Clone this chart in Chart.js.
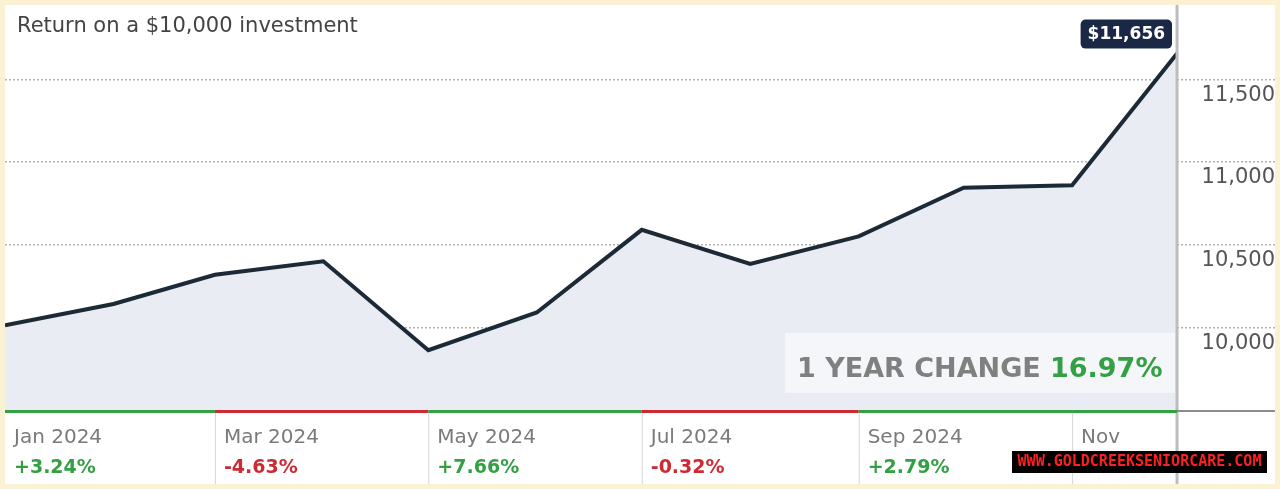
<!DOCTYPE html>
<html>
<head>
<meta charset="utf-8">
<script src="https://cdn.jsdelivr.net/npm/chart.js@4.4.1/dist/chart.umd.min.js"></script>
<style>
    html, body { margin: 0; padding: 0; background: #fbf2d3; }
    #wrap { position: absolute; left: 5px; top: 5px; width: 1270px; height: 479px; background: #fff; }
</style>
</head>
<body>
<div id="wrap"><canvas id="myChart" width="1270" height="479"></canvas></div>
<script>
const months = ['Jan 2024', 'Feb 2024', 'Mar 2024', 'Apr 2024', 'May 2024', 'Jun 2024',
                'Jul 2024', 'Aug 2024', 'Sep 2024', 'Oct 2024', 'Nov 2024', 'Dec 2024'];
const values = [10012, 10141, 10318, 10400, 9862, 10090, 10590, 10384, 10550, 10845, 10860, 11656];
const yTicks = [10000, 10500, 11000, 11500];

const sectionLabels = ['Jan 2024', 'Mar 2024', 'May 2024', 'Jul 2024', 'Sep 2024', 'Nov'];
const sectionStart = [0, 2, 4, 6, 8, 10];   // index in months
const sectionChange = [3.24, -4.63, 7.66, -0.32, 2.79, 7.33];

const titleText = 'Return on a $10,000 investment';
const lastValueText = '$11,656';
const yearChange = 16.97;
const watermark = 'WWW.GOLDCREEKSENIORCARE.COM';

// day of year for the first of each month
const days = months.map((m, i) => (Date.UTC(2024, i, 1) - Date.UTC(2024, 0, 1)) / 864e5);

const GREEN = '#33a043';
const RED = '#cc2b35';

const extras = {
    id: 'extras',
    afterDatasetsDraw(chart) {
        const ctx = chart.ctx;
        const x = chart.scales.x;
        const y = chart.scales.y;
        const endX = x.getPixelForValue(days[days.length - 1]);
        const endY = y.getPixelForValue(values[values.length - 1]);

        ctx.save();
        // title
        ctx.font = '21px "DejaVu Sans"';
        ctx.fillStyle = '#444';
        ctx.textAlign = 'left';
        ctx.textBaseline = 'alphabetic';
        ctx.fillText(titleText, 12, 27);

        // 1 year change box
        ctx.fillStyle = 'rgba(255,255,255,0.55)';
        ctx.fillRect(780, 328, endX - 2 - 780, 60);
        ctx.font = 'bold 27px "DejaVu Sans"';
        ctx.fillStyle = '#808080';
        ctx.fillText('1 YEAR CHANGE', 792, 372);
        ctx.fillStyle = GREEN;
        ctx.fillText(yearChange.toFixed(2) + '%', 1045, 372);

        // value badge
        ctx.font = 'bold 17px "DejaVu Sans"';
        const w = ctx.measureText(lastValueText).width + 14;
        const bx = endX - 5 - w, by = endY - 34;
        ctx.fillStyle = '#1b2845';
        ctx.beginPath();
        ctx.roundRect(bx, by, w, 29, 5);
        ctx.fill();
        ctx.fillStyle = '#fff';
        ctx.textAlign = 'center';
        ctx.textBaseline = 'middle';
        ctx.fillText(lastValueText, bx + w / 2, by + 15);
        ctx.restore();
    },
    afterDraw(chart) {
        const ctx = chart.ctx;
        const x = chart.scales.x;
        const area = chart.chartArea;
        const endX = x.getPixelForValue(days[days.length - 1]);
        const top = area.bottom;
        const H = chart.height;

        ctx.save();
        // vertical line at the last point
        ctx.strokeStyle = '#bdbdbd';
        ctx.lineWidth = 3;
        ctx.beginPath();
        ctx.moveTo(endX, 0);
        ctx.lineTo(endX, H);
        ctx.stroke();

        // bottom strip
        ctx.fillStyle = '#8c8c8c';
        ctx.fillRect(endX, top, chart.width - endX, 2);
        sectionLabels.forEach((lab, i) => {
            const x0 = x.getPixelForValue(days[sectionStart[i]]);
            const x1 = i < sectionLabels.length - 1 ? x.getPixelForValue(days[sectionStart[i + 1]]) : endX;
            const ch = sectionChange[i];
            ctx.fillStyle = ch >= 0 ? GREEN : RED;
            ctx.fillRect(x0, top, x1 - x0, 3);
            if (i > 0) {
                ctx.fillStyle = '#d6d6d6';
                ctx.fillRect(x0, top + 3, 1, H - top - 3);
            }
            ctx.textAlign = 'left';
            ctx.textBaseline = 'alphabetic';
            ctx.font = '20px "DejaVu Sans"';
            ctx.fillStyle = '#7a7a7a';
            ctx.fillText(lab, x0 + 9, 438);
            ctx.font = 'bold 19px "DejaVu Sans"';
            ctx.fillStyle = ch >= 0 ? GREEN : RED;
            ctx.fillText((ch >= 0 ? '+' : '') + ch.toFixed(2) + '%', x0 + 9, 468);
        });

        // watermark
        ctx.fillStyle = '#000';
        ctx.fillRect(1007, 446, 255, 22);
        ctx.font = 'bold 15px "DejaVu Sans Mono"';
        ctx.fillStyle = '#ff1f1f';
        ctx.textAlign = 'center';
        ctx.textBaseline = 'middle';
        ctx.fillText(watermark, 1007 + 255 / 2, 457);
        ctx.restore();
    }
};

const ctx = document.getElementById('myChart').getContext('2d');
new Chart(ctx, {
    type: 'line',
    data: {
        datasets: [{
            data: values.map((v, i) => ({ x: days[i], y: v })),
            borderColor: '#1b2a36',
            borderWidth: 4,
            backgroundColor: '#e9ecf2',
            fill: 'start',
            pointRadius: 0,
            tension: 0
        }]
    },
    options: {
        responsive: false,
        animation: false,
        devicePixelRatio: 1,
        events: [],
        layout: { padding: { top: 0, left: 0, right: 0, bottom: 74 } },
        plugins: { legend: { display: false }, tooltip: { enabled: false } },
        scales: {
            x: { type: 'linear', min: 0, max: 363, display: false },
            y: {
                position: 'right',
                min: 9500,
                max: 11950,
                bounds: 'data',
                afterBuildTicks: s => { s.ticks = yTicks.map(v => ({ value: v })); },
                afterFit: s => { s.width = 0; s.paddingTop = 0; s.paddingBottom = 0; },
                grid: { color: '#b0b0b0', lineWidth: 1.5, drawTicks: false },
                border: { display: false, dash: [2, 2] },
                ticks: {
                    mirror: true,
                    padding: 0,
                    labelOffset: 16,
                    color: '#555',
                    font: { family: 'DejaVu Sans', size: 21 },
                    callback: v => v.toLocaleString('en-US')
                }
            }
        }
    },
    plugins: [extras]
});
</script>
</body>
</html>
